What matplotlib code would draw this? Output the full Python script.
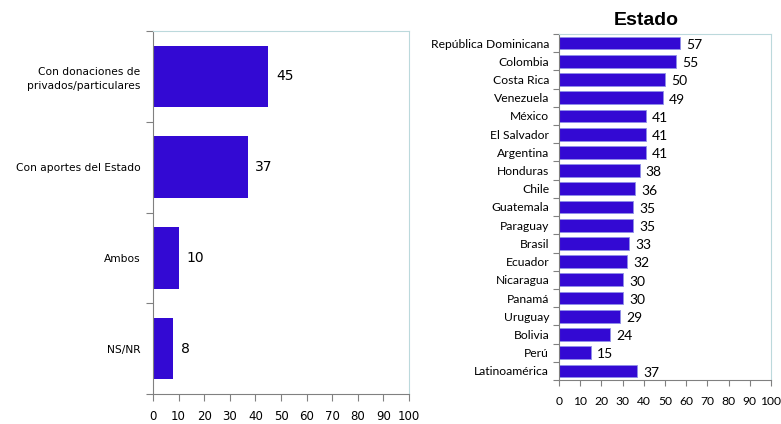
""" Recreate the two horizontal bar panels (financing source and Estado by country). """
import numpy as np
import matplotlib.pyplot as plt

fuentes = ["Con donaciones de\nprivados/particulares", "Con aportes del Estado", "Ambos", "NS/NR"]
fuentes_vals = [45, 37, 10, 8]

paises = ["República Dominicana", "Colombia", "Costa Rica", "Venezuela", "México",
          "El Salvador", "Argentina", "Honduras", "Chile", "Guatemala", "Paraguay",
          "Brasil", "Ecuador", "Nicaragua", "Panamá", "Uruguay", "Bolivia", "Perú",
          "Latinoamérica"]
paises_vals = [57, 55, 50, 49, 41, 41, 41, 38, 36, 35, 35, 33, 32, 30, 30, 29, 24, 15, 37]

BAR = "#3309d3"
FRAME = "#bcd9dc"
AXIS = "#808080"


def style_axes(ax, n, tick_pad):
    # frame: gray axis lines, light blue box on the other two sides
    ax.spines["left"].set_color(AXIS)
    ax.spines["bottom"].set_color(AXIS)
    ax.spines["top"].set_color(FRAME)
    ax.spines["right"].set_color(FRAME)
    ax.set_xlim(0, 100)
    ax.set_xticks(np.arange(0, 101, 10))
    ax.set_ylim(n - 0.5, -0.5)
    # separators between categories instead of centred ticks
    ax.set_yticks(np.arange(-0.5, n, 1.0), minor=False)
    ax.set_yticklabels([])
    ax.tick_params(axis="y", which="major", length=5, color=AXIS, direction="out")
    ax.tick_params(axis="y", which="minor", length=0)
    ax.tick_params(axis="x", length=5, color=AXIS, direction="out", pad=tick_pad)


fig = plt.figure(figsize=(7.81, 4.24), dpi=100)

# left panel
ax1 = fig.add_axes([0.1959, 0.0708, 0.3278, 0.856])
y1 = np.arange(len(fuentes))
ax1.barh(y1, fuentes_vals, height=0.68, color=BAR)
style_axes(ax1, len(fuentes), 6.5)
ax1.set_yticks(y1, minor=True)
ax1.set_yticklabels(fuentes, minor=True, fontsize=7.7, family="DejaVu Sans",
                    linespacing=1.5)
ax1.tick_params(axis="y", which="minor", pad=9)
ax1.tick_params(axis="x", labelsize=8.5)
for yy, v in zip(y1, fuentes_vals):
    ax1.text(v + 3, yy, str(v), va="center", ha="left", fontsize=10)

# right panel
ax2 = fig.add_axes([0.7157, 0.1038, 0.2714, 0.816])
y2 = np.arange(len(paises))
ax2.barh(y2, paises_vals, height=0.7, color=BAR, edgecolor="#8f8fe8", linewidth=0.6)
style_axes(ax2, len(paises), 7.5)
ax2.set_yticks(y2, minor=True)
ax2.set_yticklabels(paises, minor=True, fontsize=8.7, family="Lato")
ax2.tick_params(axis="y", which="minor", pad=7)
ax2.tick_params(axis="y", which="major", length=4)
ax2.tick_params(axis="x", labelsize=8.7, length=4)
for lbl in ax2.get_xticklabels():
    lbl.set_family("Lato")
for yy, v in zip(y2, paises_vals):
    ax2.text(v + 3, yy + 0.1, str(v), va="center", ha="left", fontsize=10,
             family="Lato")

fig.text(0.828, 0.952, "Estado", ha="center", va="center", fontsize=14,
         fontweight="bold", family="Liberation Sans")

fig.savefig("out.png", dpi=100)
